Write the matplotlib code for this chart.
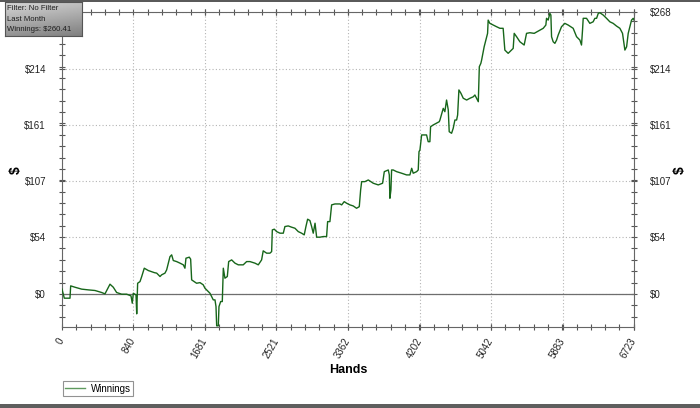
import numpy as np
import matplotlib
matplotlib.use("Agg")
import matplotlib.pyplot as plt
from matplotlib.patches import Rectangle
from matplotlib.ticker import AutoMinorLocator
from matplotlib.transforms import ScaledTranslation

# winnings curve (hands played, cumulative $)
hands = [
    0, 27, 94, 102, 153, 231, 309, 388, 466, 505, 564, 603, 642, 701, 760,
    811, 826, 838, 870, 878, 889, 917, 937, 967, 1014, 1085, 1113, 1152, 1171,
    1210, 1230, 1269, 1289, 1308, 1347, 1387, 1426, 1445, 1457, 1496, 1512,
    1524, 1582, 1622, 1660, 1680, 1700, 1739, 1778, 1798, 1810, 1818, 1837,
    1845, 1865, 1884, 1896, 1915, 1943, 1959, 1994, 2033, 2072, 2130, 2170,
    2209, 2268, 2307, 2346, 2365, 2405, 2444, 2464, 2472, 2495, 2523, 2562,
    2601, 2620, 2659, 2699, 2738, 2777, 2816, 2847, 2867, 2887, 2914, 2934,
    2953, 2974, 2993, 3032, 3071, 3110, 3122, 3149, 3169, 3208, 3267, 3287,
    3317, 3345, 3384, 3423, 3462, 3494, 3510, 3522, 3560, 3600, 3658, 3717,
    3768, 3788, 3835, 3847, 3854, 3866, 3874, 3893, 3933, 3992, 4050, 4089,
    4110, 4128, 4168, 4187, 4196, 4207, 4227, 4285, 4304, 4324, 4332, 4363,
    4434, 4442, 4481, 4500, 4520, 4540, 4551, 4579, 4598, 4618, 4638, 4650,
    4665, 4689, 4716, 4756, 4795, 4834, 4853, 4873, 4893, 4905, 4923, 4932,
    4962, 4982, 5002, 5009, 5029, 5068, 5108, 5147, 5185, 5205, 5244, 5284,
    5303, 5315, 5343, 5382, 5432, 5460, 5499, 5550, 5617, 5656, 5687, 5695,
    5714, 5734, 5746, 5754, 5773, 5793, 5813, 5832, 5871, 5910, 5949, 6008,
    6048, 6067, 6087, 6106, 6118, 6126, 6165, 6204, 6243, 6263, 6283, 6303,
    6322, 6361, 6400, 6439, 6478, 6518, 6557, 6588, 6604, 6616, 6636, 6655,
    6674, 6694, 6714, 6723,
]
winnings = [
    4.5, -4.1, -4.1, 7.6, 6.3, 4.5, 3.8, 3.2, 1.3, 0.0, 9.2, 6.3, 1.3, -0.3,
    -0.3, -1.9, -8.9, 0.6, -1.0, -19.0, 10.1, 11.7, 16.5, 24.4, 22.2, 20.2,
    19.7, 16.5, 18.1, 19.7, 22.8, 35.4, 37.1, 31.7, 30.7, 29.2, 27.6, 24.4,
    33.9, 34.9, 33.0, 13.3, 10.1, 10.7, 8.6, 5.4, 3.8, 0.6, -5.7, -5.7, -12.1,
    -30.4, -30.4, -12.1, -7.3, -7.3, 24.4, 14.9, 16.5, 30.7, 32.3, 29.2, 27.6,
    27.6, 30.7, 30.7, 29.2, 27.6, 32.3, 40.9, 38.7, 38.7, 40.2, 60.8, 61.5,
    59.2, 57.7, 57.7, 64.0, 64.6, 63.4, 62.4, 59.2, 57.7, 56.1, 64.0, 71.0,
    69.7, 64.0, 57.7, 67.2, 53.9, 53.9, 54.5, 54.5, 68.7, 68.7, 84.6, 85.5,
    85.5, 84.6, 87.7, 86.2, 84.6, 83.6, 81.4, 82.9, 98.8, 106.7, 106.7, 108.3,
    105.2, 103.6, 105.2, 116.2, 117.8, 113.1, 90.9, 98.8, 117.8, 117.8, 116.2,
    114.7, 113.1, 113.1, 119.4, 114.7, 116.2, 117.8, 135.2, 136.8, 151.1,
    151.1, 144.7, 144.7, 158.9, 160.6, 163.7, 165.3, 176.4, 173.2, 184.3,
    174.9, 154.2, 152.7, 157.4, 165.3, 165.3, 170.1, 193.9, 190.7, 186.0,
    184.3, 186.0, 187.4, 189.1, 186.0, 182.7, 216.0, 219.2, 222.3, 235.0,
    241.3, 247.7, 260.3, 257.2, 255.6, 254.0, 252.5, 252.5, 231.8, 228.7,
    231.8, 233.4, 247.7, 244.5, 239.7, 236.6, 247.7, 248.3, 247.7, 250.8,
    252.5, 255.6, 262.0, 260.3, 266.7, 265.1, 244.5, 239.7, 238.2, 241.3,
    246.1, 254.0, 257.2, 255.6, 252.5, 244.5, 242.9, 241.3, 236.6, 250.8,
    262.0, 262.0, 257.2, 258.7, 262.0, 262.0, 266.7, 267.3, 265.1, 262.0,
    258.7, 257.2, 254.6, 252.5, 247.7, 238.2, 231.8, 234.9, 247.7, 254.0,
    260.3, 262.0, 260.41,
]

hand_ticks = [0, 840, 1681, 2521, 3362, 4202, 5042, 5883, 6723]
dollar_ticks = [0, 54, 107, 161, 214, 268]
dollar_labels = ["$0", "$54", "$107", "$161", "$214", "$268"]
info_lines = ["Filter: No Filter", "Last Month", "Winnings: $260.41"]

W, H = 700, 408
fig = plt.figure(figsize=(W / 100, H / 100), dpi=100)
plt.rcParams["font.family"] = ["Liberation Sans", "DejaVu Sans"]

# plot area in pixels: x 62..634, y 12..327
ax = fig.add_axes([62 / W, 1 - 327 / H, 572 / W, 315 / H])
ax.plot(hands, winnings, color="#17661a", lw=1.0, label="Winnings", zorder=3)
ax.axhline(0, color="#6e6e6e", lw=0.9, zorder=2)

ax.set_xlim(0, 6723)
ax.set_ylim(-31.5, 268)
ax.set_xticks(hand_ticks)
ax.set_xticklabels([str(t) for t in hand_ticks], rotation=60,
                   ha="right", va="center", rotation_mode="anchor")
shift = ScaledTranslation(4 / 100, -1 / 100, fig.dpi_scale_trans)
for lbl in ax.get_xticklabels():
    lbl.set_transform(lbl.get_transform() + shift)
ax.set_yticks(dollar_ticks)
ax.set_yticklabels(dollar_labels)
ax.xaxis.set_minor_locator(AutoMinorLocator(5))
ax.yaxis.set_minor_locator(AutoMinorLocator(5))

ax.tick_params(axis="both", which="both", direction="inout", colors="#555555",
               labelcolor="#222222", labelsize=7, top=True, right=True,
               labelright=True)
ax.tick_params(axis="both", which="major", length=5, width=0.8)
ax.tick_params(axis="both", which="minor", length=4, width=0.8)
ax.tick_params(axis="y", which="major", pad=9)
ax.tick_params(axis="x", which="major", pad=6)

ax.grid(True, which="major", linestyle=(0, (1, 2)), color="#b4b4b4", lw=0.8)
for sp in ax.spines.values():
    sp.set_color("#666666")
    sp.set_linewidth(0.8)

fig.text(348 / W, 1 - 370 / H, "Hands", ha="center", va="center",
         fontsize=9, fontweight="bold")
fig.text(16 / W, 1 - 170 / H, "$", ha="center", va="center", rotation=90,
         fontsize=10, fontweight="bold")
fig.text(680 / W, 1 - 170 / H, "$", ha="center", va="center", rotation=90,
         fontsize=10, fontweight="bold")

leg = ax.legend(loc="lower left", bbox_to_anchor=(63 / W, 1 - 396 / H),
                bbox_transform=fig.transFigure, fontsize=7, frameon=True,
                fancybox=False, edgecolor="#777777", handlelength=2.0,
                borderpad=0.25, borderaxespad=0, handletextpad=0.6)
leg.get_frame().set_linewidth(0.8)
leg.get_lines()[0].set_color("#5f9a5f")

# info box with grey gradient in the corner (pixels x 5..82, y 2..36)
bx = fig.add_axes([5 / W, 1 - 36 / H, 77 / W, 34 / H])
gy, gx = np.mgrid[0:1:40j, 0:1:80j]
grad = 0.84 - 0.26 * gy - 0.08 * gx
bx.imshow(grad, cmap="gray", vmin=0, vmax=1, aspect="auto",
          extent=[0, 1, 0, 1], origin="upper")
bx.set_xticks([])
bx.set_yticks([])
for sp in bx.spines.values():
    sp.set_color("#555555")
    sp.set_linewidth(0.8)
for i, line in enumerate(info_lines):
    fig.text(7 / W, 1 - (8.5 + 10.6 * i) / H, line, fontsize=5.6,
             color="#1e1e1e", va="center", ha="left")

# window frame lines
fig.add_artist(Rectangle((0, 1 - 2 / H), 1, 2 / H, transform=fig.transFigure,
                         color="#5a5a5a", lw=0))
fig.add_artist(Rectangle((0, 0), 1, 4 / H, transform=fig.transFigure,
                         color="#5e5e5e", lw=0))

fig.savefig("out.png", dpi=100)
